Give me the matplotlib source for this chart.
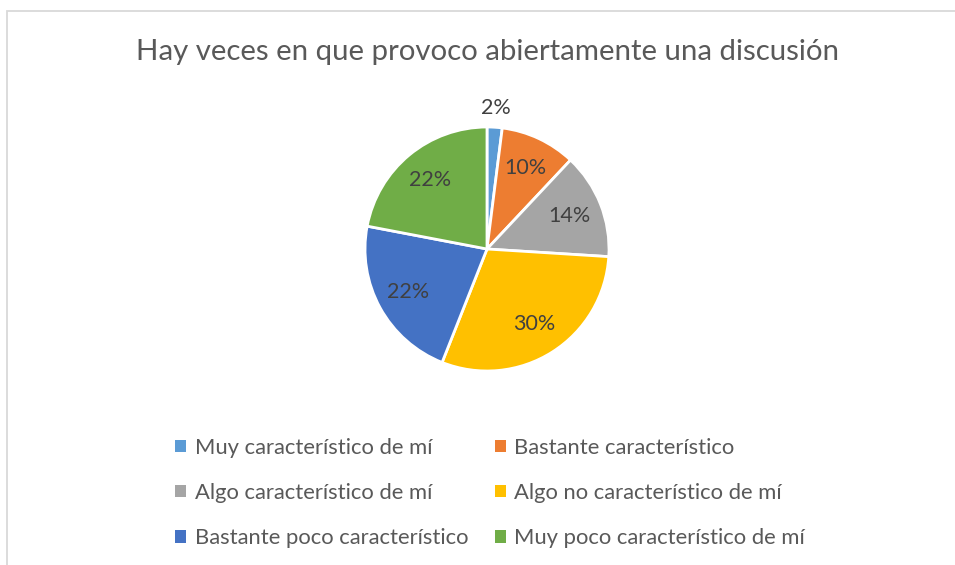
import numpy as np
import matplotlib.pyplot as plt
from matplotlib.patches import Rectangle, Patch

# ── Data ──────────────────────────────────────────────────────────────────────
categories = [
    "Muy característico de mí",
    "Bastante característico",
    "Algo característico de mí",
    "Algo no característico de mí",
    "Bastante poco característico",
    "Muy poco característico de mí",
]
values = [2, 10, 14, 30, 22, 22]
colors = ["#5B9BD5", "#ED7D31", "#A5A5A5", "#FFC000", "#4472C4", "#70AD47"]
title = "Hay veces en que provoco abiertamente una discusión"

# ── Style ─────────────────────────────────────────────────────────────────────
plt.rcParams.update({"font.family": ["Lato", "DejaVu Sans"]})
W, H = 955, 565
fig = plt.figure(figsize=(W / 100, H / 100), dpi=100)
fig.patch.set_facecolor("white")

# chart frame (cut off at right and bottom like the reference)
fig.patches.append(Rectangle((7 / W, -0.05), 1.1, 1 - 10.5 / H + 0.05,
                             transform=fig.transFigure, fill=False,
                             edgecolor="#D9D9D9", linewidth=1.3))

fig.text(487 / W, 1 - 52 / H, title, ha="center", va="center",
         fontsize=21.2, color="#595959")

# ── Pie ───────────────────────────────────────────────────────────────────────
cx, cy, r = 487, 249, 122
ax = fig.add_axes([(cx - r) / W, (H - cy - r) / H, 2 * r / W, 2 * r / H])
wedges, _ = ax.pie(values, colors=colors, startangle=90, counterclock=False,
                   radius=1.0, wedgeprops=dict(edgecolor="white", linewidth=2))
ax.set_xlim(-1, 1)
ax.set_ylim(-1, 1)
ax.axis("off")

label_r = [1.16, 0.73, 0.73, 0.73, 0.74, 0.73]
for w, v, lr in zip(wedges, values, label_r):
    ang = np.deg2rad((w.theta1 + w.theta2) / 2)
    ax.text(lr * np.cos(ang), lr * np.sin(ang), f"{v}%", ha="center",
            va="center", fontsize=15.5, color="#404040", clip_on=False)

# ── Legend (row-wise order, 2 columns) ────────────────────────────────────────
order = [0, 2, 4, 1, 3, 5]
handles = [Patch(facecolor=colors[i], edgecolor="none") for i in order]
labels = [categories[i] for i in order]
fig.legend(handles, labels, ncol=2, loc="center",
           bbox_to_anchor=(490 / W, 1 - 493 / H), frameon=False,
           fontsize=15.8, labelcolor="#595959",
           handlelength=0.5, handleheight=0.5, handletextpad=0.4,
           columnspacing=1.2, labelspacing=1.15)

fig.savefig("out.png", dpi=100, facecolor="white")
